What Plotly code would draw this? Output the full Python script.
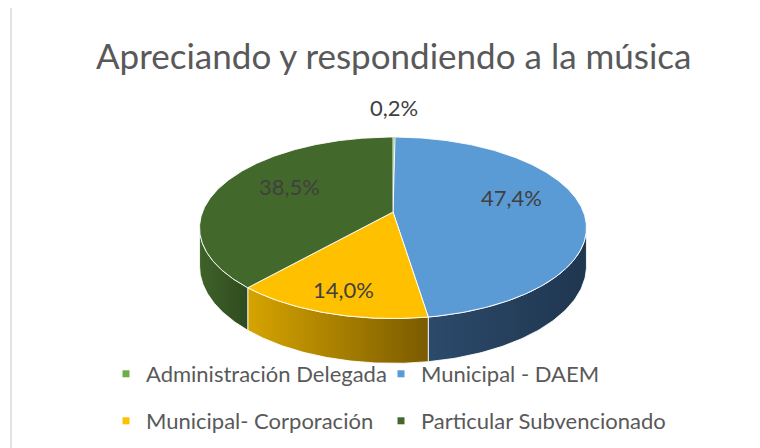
import numpy as np
import plotly.graph_objects as go

# ---- data ----
categories = ["Administración Delegada", "Municipal - DAEM",
              "Municipal- Corporación", "Particular Subvencionado"]
values = [0.2, 47.4, 14.0, 38.5]
value_labels = ["0,2%", "47,4%", "14,0%", "38,5%"]
title_text = "Apreciando y respondiendo a la música"

# ---- style ----
top_colors = ["#70AD47", "#5B9BD5", "#FFC000", "#43682B"]
side_colors = [("#5E9A3A", "#4A7D2C"), ("#2C4A6B", "#1F364F"),
               ("#D6A400", "#7A5B00"), ("#3F6229", "#2F4B1E")]
label_radius = [1.5, 0.63, 0.8, 0.6]
label_dy = [0, -11, 0, -7]
FONT = "Lato"
TXT = "#595959"
LBL = "#404040"

W, H = 760, 448
OFF = 8  # page body margin: axis units are set equal to window pixels
CX, CY, RX, RY, PERSP, DEPTH = 393, 212, 190.5, 88, 0.174, 37


def project(theta, r=1.0, drop=0.0):
    t = np.radians(theta)
    u = r * np.sin(t)
    v = -r * np.cos(t)
    d = 1 - PERSP * v
    return CX + RX * u / d, CY + (RY * v + drop) / d


total = float(sum(values))
bounds = np.concatenate([[0.0], np.cumsum(values)]) / total * 360.0
vis_a = np.degrees(np.arccos(-PERSP))
vis_b = 360.0 - vis_a

fig = go.Figure()

# side walls (front half only)
for i, cat in enumerate(categories):
    a, b = max(bounds[i], vis_a), min(bounds[i + 1], vis_b)
    if b <= a:
        continue
    arc = np.linspace(a, b, 80)
    tx, ty = project(arc)
    bx, by = project(arc[::-1], drop=DEPTH)
    xs = np.concatenate([tx, bx, tx[:1]])
    ys = np.concatenate([ty, by, ty[:1]])
    fig.add_trace(go.Scatter(
        x=xs, y=ys, mode="lines", fill="toself",
        fillgradient=dict(type="horizontal",
                          colorscale=[[0, side_colors[i][0]], [1, side_colors[i][1]]]),
        line=dict(color="rgba(255,255,255,0.85)", width=1),
        hoverinfo="skip", showlegend=False))

# top faces
for i, cat in enumerate(categories):
    n = max(4, int((bounds[i + 1] - bounds[i]) * 2))
    arc = np.linspace(bounds[i], bounds[i + 1], n)
    ax_, ay_ = project(arc)
    xs = np.concatenate([[CX], ax_, [CX]])
    ys = np.concatenate([[CY], ay_, [CY]])
    fig.add_trace(go.Scatter(
        x=xs, y=ys, mode="lines", fill="toself", fillcolor=top_colors[i],
        line=dict(color="rgba(255,255,255,0.9)", width=1 if values[i] > 1 else 0.3),
        hoverinfo="skip", showlegend=False))

# data labels
for i, lab in enumerate(value_labels):
    mid = (bounds[i] + bounds[i + 1]) / 2
    lx, ly = project(mid, r=label_radius[i])
    fig.add_annotation(x=float(lx), y=float(ly) + label_dy[i], xref="x", yref="y",
                       text=lab, showarrow=False, xanchor="center", yanchor="middle",
                       font=dict(family=FONT, size=22, color=LBL))

# legends (one per entry, 2 x 2 grid); positions in window pixels
legend_names = ["legend", "legend2", "legend3", "legend4"]
legend_pos = [(106, 374), (381, 374), (106, 421), (381, 421)]
layout_legends = {}
for i, cat in enumerate(categories):
    fig.add_trace(go.Scatter(
        x=[None], y=[None], mode="markers", name=cat,
        marker=dict(symbol="square", size=7, color=top_colors[i]),
        legend=legend_names[i], hoverinfo="skip"))
    px, py = legend_pos[i]
    layout_legends[legend_names[i]] = dict(
        x=(px - OFF) / W, y=1 - (py - OFF) / H, xanchor="left", yanchor="middle",
        bgcolor="rgba(0,0,0,0)", borderwidth=0,
        font=dict(family=FONT, size=22, color=TXT))

fig.add_annotation(x=393, y=55, xref="x", yref="y", text=title_text,
                   showarrow=False, xanchor="center", yanchor="middle",
                   font=dict(family=FONT, size=35, color=TXT))

# chart border (top and left visible)
fig.add_shape(type="line", x0=11, y0=7, x1=W + OFF, y1=7, xref="x", yref="y",
              line=dict(color="#D9D9D9", width=1.5))
fig.add_shape(type="line", x0=11, y0=7, x1=11, y1=H + OFF, xref="x", yref="y",
              line=dict(color="#D9D9D9", width=1.5))

fig.update_layout(
    width=W, height=H, margin=dict(l=0, r=0, t=0, b=0),
    paper_bgcolor="white", plot_bgcolor="white",
    xaxis=dict(range=[OFF, W + OFF], visible=False, fixedrange=True),
    yaxis=dict(range=[H + OFF, OFF], visible=False, fixedrange=True),
    showlegend=True,
    **layout_legends,
)

fig.write_html("out.html")
